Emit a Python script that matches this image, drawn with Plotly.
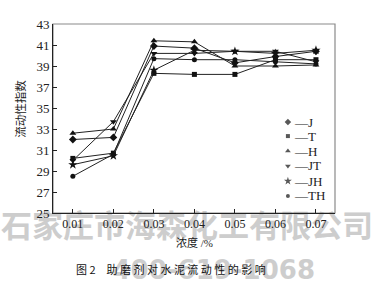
import plotly.graph_objects as go

concentrations = ["0.01", "0.02", "0.03", "0.04", "0.05", "0.06", "0.07"]
x_vals = [0.01, 0.02, 0.03, 0.04, 0.05, 0.06, 0.07]

J = [32.0, 32.2, 40.9, 40.7, 39.3, 39.9, 40.4]
T = [30.2, 30.7, 38.3, 38.2, 38.2, 39.6, 39.6]
H = [32.6, 33.0, 41.4, 41.3, 39.0, 39.0, 39.1]
JT = [30.0, 33.7, 40.2, 40.2, 40.4, 40.4, 39.4]
JH = [29.6, 30.45, 38.6, 40.5, 40.4, 40.2, 40.5]
TH = [28.5, 30.6, 39.7, 39.6, 39.6, 39.4, 39.2]

series_names = ["J", "T", "H", "JT", "JH", "TH"]
series_values = [J, T, H, JT, JH, TH]
symbols = ["diamond", "square", "triangle-up", "triangle-down", "star", "circle"]
sizes = [6, 5, 6, 6, 7, 5]

y_ticks = list(range(25, 44, 2))

SERIF = "Liberation Serif, Times New Roman, Noto Sans CJK SC"
CJK = "Noto Sans CJK SC"

fig = go.Figure()
for name, vals, sym, sz in zip(series_names, series_values, symbols, sizes):
    fig.add_trace(go.Scatter(
        x=x_vals, y=vals, mode="lines+markers", name=name,
        line=dict(color="#222222", width=1),
        marker=dict(symbol=sym, size=sz, color="#111111", line=dict(width=0)),
        showlegend=False,
    ))

# manual legend (marker then "—name")
leg_y = [0.481, 0.407, 0.328, 0.249, 0.169, 0.090]
fig.add_trace(go.Scatter(
    x=[0.833] * 6, y=leg_y, mode="markers", xaxis="x2", yaxis="y2",
    marker=dict(symbol=symbols, size=[s - 1 for s in sizes], color="#111111", line=dict(width=0)),
    showlegend=False, hoverinfo="skip",
))
annotations = []
for name, yy in zip(series_names, leg_y):
    annotations.append(dict(
        x=0.846, y=yy, xref="paper", yref="paper", text="—" + name,
        showarrow=False, xanchor="left", yanchor="middle",
        font=dict(family=SERIF, size=13, color="#222222"),
    ))

annotations.append(dict(
    x=0.5, y=-0.155, xref="paper", yref="paper", text="浓度 /%",
    showarrow=False, xanchor="center", yanchor="middle",
    font=dict(family=SERIF, size=11, color="#222222"),
))
annotations.append(dict(
    x=-0.118, y=0.55, xref="paper", yref="paper", text="流动性指数",
    showarrow=False, textangle=-90, xanchor="center", yanchor="middle",
    font=dict(family=SERIF, size=11.5, color="#222222"),
))
annotations.append(dict(
    x=0.42, y=-0.295, xref="paper", yref="paper", text="图 2　助 磨 剂 对 水 泥 流 动 性 的 影 响",
    showarrow=False, xanchor="center", yanchor="middle",
    font=dict(family=CJK, size=11, color="#111111"),
))

shapes = [
    # watermark lines (below axes)
    dict(type="rect", xref="paper", yref="paper", x0=-0.17, x1=1.12, y0=-0.14, y1=-0.02,
         line=dict(width=0), fillcolor="rgba(0,0,0,0)", layer="below",
         label=dict(text="石家庄市海森化工有限公司", textposition="middle center",
                    font=dict(family=CJK, size=31, color="#cdcdcd", weight="bold"))),
    dict(type="rect", xref="paper", yref="paper", x0=0.22, x1=0.92, y0=-0.34, y1=-0.24,
         line=dict(width=0), fillcolor="rgba(0,0,0,0)", layer="below",
         label=dict(text="400-619-1068", textposition="middle center",
                    font=dict(family="DejaVu Sans", size=26, color="#cdcdcd", weight="bold"))),
    # frame
    dict(type="rect", xref="paper", yref="paper", x0=0, x1=1, y0=0, y1=1,
         line=dict(color="#8a8a8a", width=1.2), layer="below"),
]

fig.update_layout(
    width=372, height=285,
    margin=dict(l=53, r=37, t=24, b=72),
    paper_bgcolor="white", plot_bgcolor="rgba(0,0,0,0)",
    showlegend=False,
    annotations=annotations,
    shapes=shapes,
    xaxis=dict(
        range=[0.0051, 0.0747], tickvals=x_vals, ticktext=concentrations,
        ticks="inside", ticklen=4, tickcolor="#222", showgrid=False, zeroline=False,
        showline=True, linecolor="#222", linewidth=1,
        tickfont=dict(family=SERIF, size=12, color="#222"),
    ),
    yaxis=dict(
        range=[25, 43], tickvals=y_ticks, ticktext=[str(v) for v in y_ticks],
        ticks="inside", ticklen=4, tickcolor="#222", showgrid=False, zeroline=False,
        showline=True, linecolor="#222", linewidth=1,
        tickfont=dict(family=SERIF, size=13, color="#222"),
    ),
    xaxis2=dict(range=[0, 1], overlaying="x", visible=False),
    yaxis2=dict(range=[0, 1], overlaying="y", visible=False),
)

fig.write_html("out.html")
